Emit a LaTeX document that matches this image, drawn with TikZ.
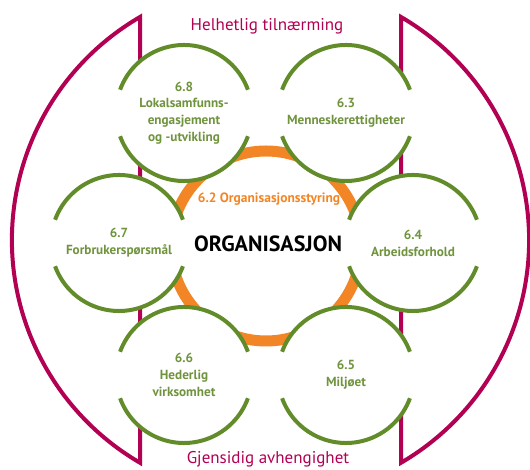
\documentclass[tikz,border=0pt]{standalone}
\usepackage{fontspec}
\setmainfont{PT Sans}
\usepackage{xcolor}
\definecolor{leaf}{RGB}{98,140,42}
\definecolor{leaftext}{RGB}{112,148,62}
\definecolor{plum}{RGB}{178,0,82}
\definecolor{amber}{RGB}{242,134,38}

\begin{document}
\begin{tikzpicture}[x=1pt, y=1pt,
        frame/.style={draw=plum, line width=4pt, line join=miter},
        ring/.style={draw=amber, line width=11pt},
        topic/.style={circle, fill=white, minimum size=136pt, inner sep=0pt, outer sep=0pt, align=center, text=leaftext, font=\bfseries\fontsize{13.2}{16.8}\selectfont},
        arcline/.style={draw=leaf, line width=4pt},
        title/.style={text=plum, font=\fontsize{17}{20}\selectfont, anchor=base}
    ]
        \useasboundingbox (0,0) rectangle (530,470);

        % Outer frame
        \draw[frame] (140,453) arc[start angle=120.24, end angle=239.76, radius=258] -- cycle;
        \draw[frame] (401,453) arc[start angle=59.76, end angle=-59.76, radius=258] -- cycle;

        % Governance ring
        \draw[ring] (266,224) circle[radius=95];

        % Core subjects
        \node[topic] (C68) at (184,357) {6.8\\Lokalsamfunns-\\engasjement\\og -utvikling};
        \node[topic] (C63) at (346,357) {6.3\\Menneskerettigheter};
        \node[topic] (C67) at (119,227) {6.7\\Forbrukerspørsmål};
        \node[topic] (C64) at (413,227) {6.4\\Arbeidsforhold};
        \node[topic] (C66) at (184,95) {6.6\\Hederlig\\virksomhet};
        \node[topic] (C65) at (346,95) {6.5\\Miljøet};

        % Circle outlines, open at the sides
        \foreach \c in {C68,C63,C67,C64,C66,C65} {
            \draw[arcline] (\c.20) arc[start angle=20, end angle=160, radius=68];
            \draw[arcline] (\c.200) arc[start angle=200, end angle=340, radius=68];
        }

        % Centre
        \node[text=amber, font=\bfseries\fontsize{13.5}{16}\selectfont] (gov) at (269,271) {6.2 Organisasjonsstyring};
        \node[font=\bfseries\fontsize{22}{26}\selectfont] (org) at (268,226) {ORGANISASJON};

        % Titles
        \node[title] (top) at (267,439) {Helhetlig tilnærming};
        \node[title] (bottom) at (268,6) {Gjensidig avhengighet};

    \end{tikzpicture}
\end{document}
